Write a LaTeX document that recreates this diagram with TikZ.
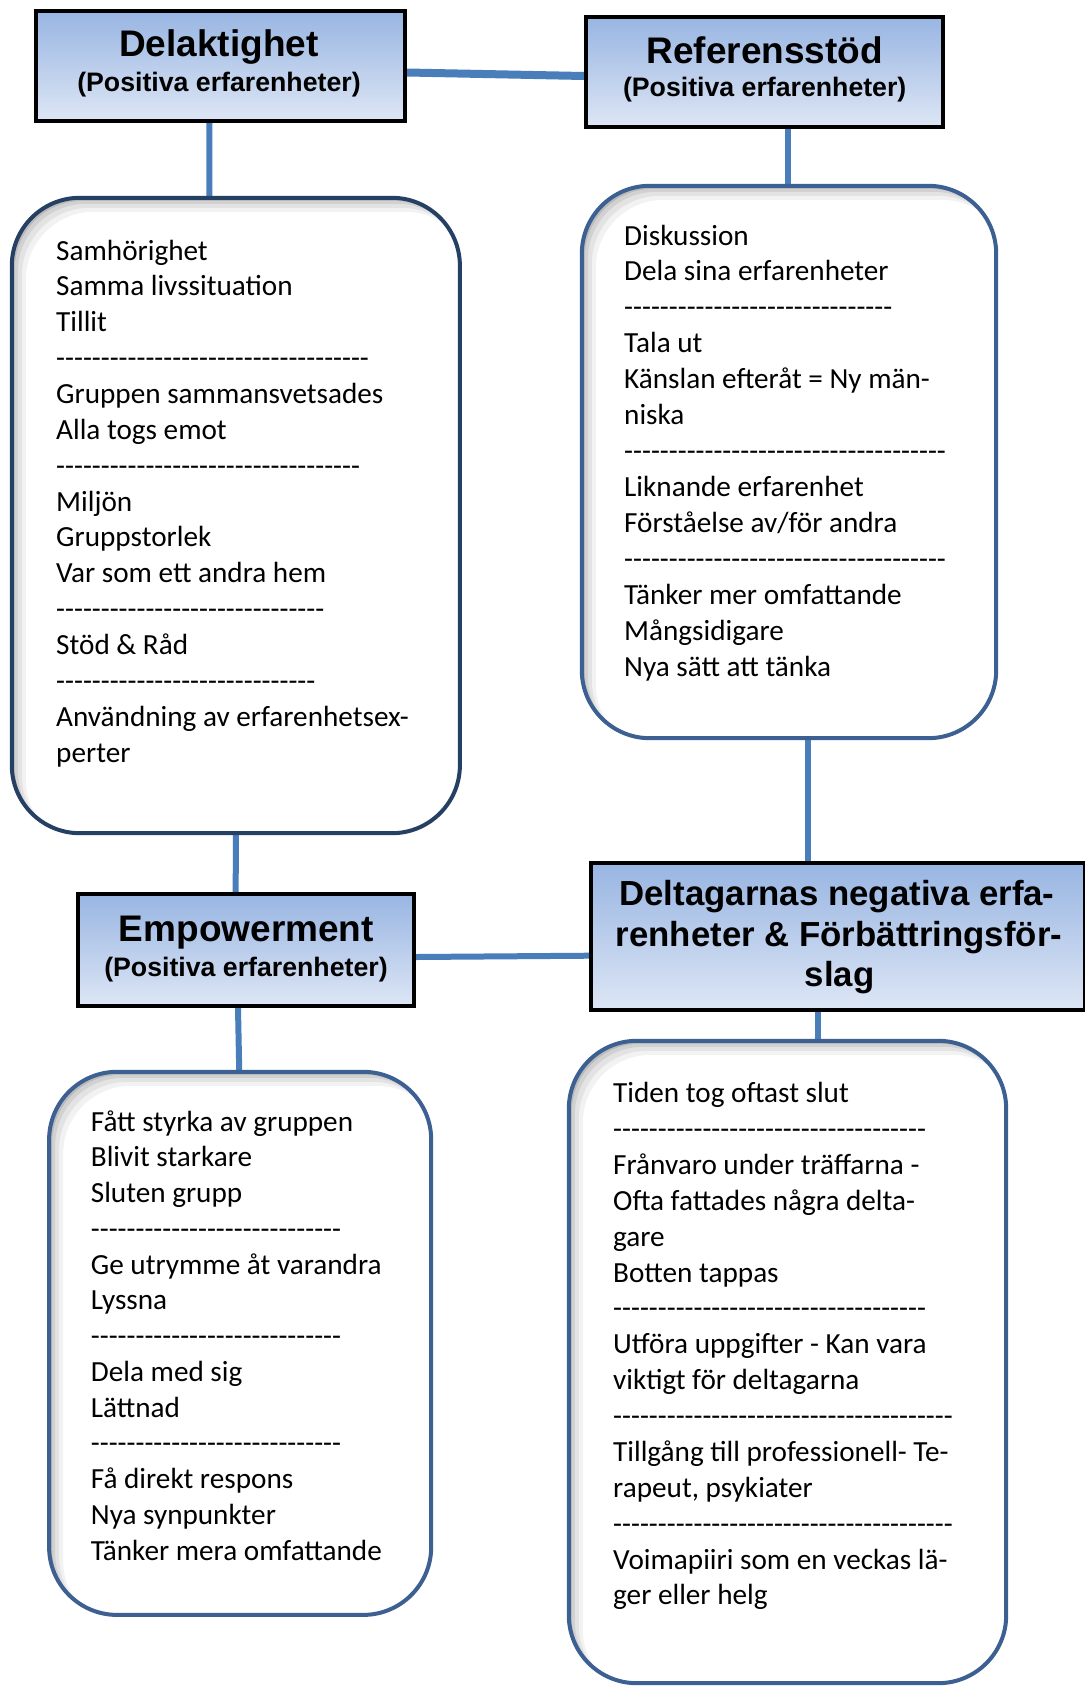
\documentclass[tikz,border=0pt]{standalone}
\usepackage{fontspec}
\setmainfont{Carlito}[Ligatures=TeXOff]
\newfontfamily\hdrfont{Liberation Sans}[Ligatures=TeXOff]
\usetikzlibrary{calc,backgrounds}
\definecolor{conn}{RGB}{74,126,187}
\definecolor{navyA}{RGB}{38,64,100}
\definecolor{navyB}{RGB}{60,96,146}
\definecolor{hdrtop}{RGB}{152,181,226}
\definecolor{hdrbot}{RGB}{221,230,245}
\ExplSyntaxOn
\cs_new:Npn \hyphs #1 {\prg_replicate:nn{#1}{-}}
\ExplSyntaxOff
\newcommand\roundframe[2]{%
  \begin{scope}
    \clip[rounded corners=68pt] (#1.south west) rectangle (#1.north east);
    \foreach \s/\o in {14/0.05,10/0.06,6/0.08,3/0.11}{
      \fill[black,opacity=\o,even odd rule,rounded corners=68pt]
        ($(#1.south west)+(-60,60)$) rectangle ($(#1.north east)+(60,-60)$)
        ($(#1.south west)+(\s,\s)$) rectangle ($(#1.north east)+(\s,\s)$);
    }
  \end{scope}
  \draw[#2,line width=4pt,rounded corners=68pt] (#1.south west) rectangle (#1.north east);
}
\begin{document}
\begin{tikzpicture}[x=1pt,y=-1pt,
  hdrbox/.style={draw=black, line width=4pt, top color=hdrtop, bottom color=hdrbot, rectangle, inner sep=0pt},
  roundbox/.style={rectangle, rounded corners=68pt, fill=white, inner sep=0pt},
  title/.style={anchor=base, inner sep=0pt, font=\hdrfont\bfseries\fontsize{37}{42}\selectfont},
  subtitle/.style={anchor=base, inner sep=0pt, font=\hdrfont\bfseries\fontsize{26.7}{30}\selectfont},
  bodytext/.style={anchor=base west, inner sep=0pt, font=\fontsize{29.2}{35.9}\selectfont},
  link/.style={draw=conn, line width=6pt},
]
\useasboundingbox (0,0) rectangle (1084,1686);

% header boxes
\node[hdrbox, minimum width=369pt, minimum height=109.4pt] (delak) at (220.5,66) {};
\node[hdrbox, minimum width=357pt, minimum height=110pt] (ref) at (764.5,72) {};
\node[hdrbox, minimum width=336pt, minimum height=112pt] (emp) at (246,950) {};
\node[hdrbox, minimum width=494pt, minimum height=147pt] (delt) at (838,936.5) {};

\node[title] (delakT) at (219,56.7) {Delaktighet};
\node[subtitle] (delakS) at (219,91.7) {(Positiva erfarenheter)};
\node[title] (refT) at (764.7,63.3) {Referensstöd};
\node[subtitle] (refS) at (764.7,96.7) {(Positiva erfarenheter)};
\node[title] (empT) at (246.4,941.7) {Empowerment};
\node[subtitle] (empS) at (246,976.7) {(Positiva erfarenheter)};
\node[title, font=\hdrfont\bfseries\fontsize{34.8}{40}\selectfont] (deltT1) at (837,905) {Deltagarnas negativa erfa-};
\node[title, font=\hdrfont\bfseries\fontsize{34.8}{40}\selectfont] (deltT2) at (839,946.2) {renheter \& Förbättringsför-};
\node[title, font=\hdrfont\bfseries\fontsize{34.8}{40}\selectfont] (deltT3) at (839.5,986.7) {slag};

% rounded content boxes
\node[roundbox, minimum width=447.7pt, minimum height=635pt] (box1) at (235.85,515.5) {};
\roundframe{box1}{navyA}
\node[roundbox, minimum width=414pt, minimum height=552pt] (box2) at (789,462) {};
\roundframe{box2}{navyB}
\node[roundbox, minimum width=381.7pt, minimum height=542.7pt] (box3) at (240.15,1343.35) {};
\roundframe{box3}{navyB}
\node[roundbox, minimum width=437pt, minimum height=642pt] (box4) at (787.5,1362) {};
\roundframe{box4}{navyB}

% texts
\foreach \t [count=\i from 0] in {Samhörighet,Samma livssituation,Tillit,\hyphs{35},
  Gruppen sammansvetsades,Alla togs emot,\hyphs{34},Miljön,Gruppstorlek,
  Var som ett andra hem,\hyphs{30},Stöd \& Råd,\hyphs{29},
  Användning av erfarenhetsex-,perter}
  {\node[bodytext] (ta\i) at (56,260+\i*35.87) {\t};}

\foreach \t [count=\i from 0] in {Diskussion,Dela sina erfarenheter,\hyphs{30},
  Tala ut,Känslan efteråt = Ny män-,niska,\hyphs{36},Liknande erfarenhet,
  Förståelse av/för andra,\hyphs{36},Tänker mer omfattande,Mångsidigare,
  Nya sätt att tänka}
  {\node[bodytext] (tb\i) at (624,245+\i*35.94) {\t};}

\foreach \t [count=\i from 0] in {Fått styrka av gruppen,Blivit starkare,Sluten grupp,
  \hyphs{28},Ge utrymme åt varandra,Lyssna,\hyphs{28},Dela med sig,Lättnad,
  \hyphs{28},Få direkt respons,Nya synpunkter,Tänker mera omfattande}
  {\node[bodytext] (tc\i) at (90.7,1131+\i*35.76) {\t};}

\foreach \t [count=\i from 0] in {Tiden tog oftast slut,\hyphs{35},
  Frånvaro under träffarna -,Ofta fattades några delta-,gare,Botten tappas,
  \hyphs{35},Utföra uppgifter - Kan vara,viktigt för deltagarna,\hyphs{38},
  Tillgång till professionell- Te-,{rapeut, psykiater},\hyphs{38},
  Voimapiiri som en veckas lä-,ger eller helg}
  {\node[bodytext] (td\i) at (613,1102.7+\i*35.87) {\t};}

% connectors
\begin{pgfonlayer}{background}
\fill[white] (0,0) rectangle (1084,1686);
\draw[link, line width=8pt] ($(delak.east)+(0,6.5)$) -- ($(ref.west)+(0,4)$);
\draw[link] ($(delak.south)+(-11.2,0)$) -- ($(box1.north)+(-26.5,0)$);
\draw[link] ($(ref.south)+(23.5,0)$) -- ($(box2.north)+(-1,0)$);
\draw[link] ($(box2.south)+(18.5,0)$) -- ($(delt.north)+(-30.5,0)$);
\draw[link] ($(box1.south)+(0,0)$) -- ($(emp.north)+(-10.3,0)$);
\draw[link] ($(emp.south)+(-8,0)$) -- ($(box3.north)+(-0.9,0)$);
\draw[link] ($(emp.east)+(0,7)$) -- ($(delt.west)+(0,19.2)$);
\draw[link] ($(delt.south)+(-20,0)$) -- ($(box4.north)+(30.5,0)$);
\end{pgfonlayer}
\end{tikzpicture}
\end{document}
